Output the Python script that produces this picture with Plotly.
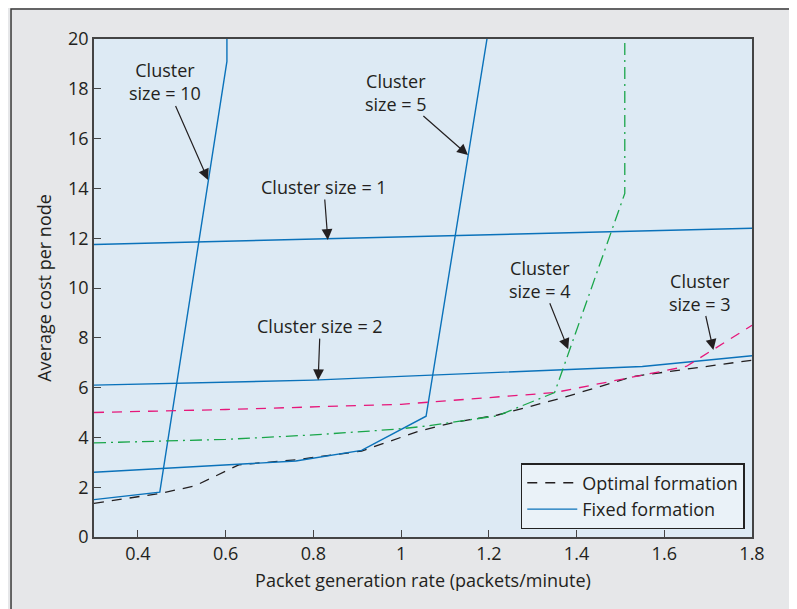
import plotly.graph_objects as go

# ---- data ----
opt_x = [0.30, 0.45, 0.53, 0.63, 0.76, 0.91, 1.04, 1.12, 1.22, 1.36, 1.53, 1.80]
opt_y = [1.35, 1.75, 2.05, 2.90, 3.10, 3.45, 4.25, 4.60, 4.90, 5.55, 6.45, 7.10]

c10_x = [0.30, 0.45, 0.603, 0.603]
c10_y = [1.50, 1.80, 19.1, 21.0]

c5_x = [0.30, 0.76, 0.91, 1.057, 1.205]
c5_y = [2.60, 3.05, 3.48, 4.85, 21.0]

c1_x = [0.30, 0.80, 1.80]
c1_y = [11.75, 11.97, 12.40]

c2_x = [0.30, 0.80, 1.00, 1.55, 1.80]
c2_y = [6.10, 6.30, 6.45, 6.85, 7.28]

c3_x = [0.30, 0.60, 1.00, 1.35, 1.65, 1.80]
c3_y = [5.00, 5.12, 5.33, 5.80, 6.85, 8.50]

c4_x = [0.30, 0.60, 0.80, 0.99, 1.06, 1.22, 1.35, 1.51, 1.51]
c4_y = [3.78, 3.92, 4.10, 4.33, 4.46, 4.87, 5.80, 13.8, 21.0]

x_ticks = [0.4, 0.6, 0.8, 1.0, 1.2, 1.4, 1.6, 1.8]
x_tick_labels = ["0.4", "0.6", "0.8", "1", "1.2", "1.4", "1.6", "1.8"]
y_ticks = [0, 2, 4, 6, 8, 10, 12, 14, 16, 18, 20]

BLUE = "#0a72ba"
PINK = "#e6177a"
GREEN = "#1aa64a"
BLACK = "#231f20"
FONT = "Open Sans"
FS = 18

fig = go.Figure()
fig.add_trace(go.Scatter(x=opt_x, y=opt_y, mode="lines", name="Optimal formation",
                         line=dict(color=BLACK, width=1.3, dash="10px,8px")))
fig.add_trace(go.Scatter(x=c1_x, y=c1_y, mode="lines", name="Fixed formation",
                         line=dict(color=BLUE, width=1.4)))
for xs, ys in [(c10_x, c10_y), (c5_x, c5_y), (c2_x, c2_y)]:
    fig.add_trace(go.Scatter(x=xs, y=ys, mode="lines", showlegend=False,
                             line=dict(color=BLUE, width=1.4)))
fig.add_trace(go.Scatter(x=c3_x, y=c3_y, mode="lines", showlegend=False,
                         line=dict(color=PINK, width=1.3, dash="10px,8px")))
fig.add_trace(go.Scatter(x=c4_x, y=c4_y, mode="lines", showlegend=False,
                         line=dict(color=GREEN, width=1.3, dash="12px,5px,2px,5px")))

# (label, tip x, tip y, ax, ay)
ann = [
    ("Cluster<br>size = 10", 0.560, 14.34, -43, -98),
    ("Cluster<br>size = 5", 1.1525, 15.34, -72, -63),
    ("Cluster size = 1", 0.833, 11.93, -4, -53),
    ("Cluster size = 2", 0.811, 6.30, 2, -54),
    ("Cluster<br>size = 4", 1.381, 7.54, -28, -70),
    ("Cluster<br>size = 3", 1.712, 7.51, -13, -58),
]
for text, x, y, ax, ay in ann:
    fig.add_annotation(x=x, y=y, ax=ax, ay=ay, text=text, showarrow=True,
                       arrowhead=2, arrowsize=1.8, arrowwidth=1.2, arrowcolor=BLACK,
                       borderpad=0,
                       font=dict(family=FONT, size=FS, color=BLACK))

# outer frame
fig.add_shape(type="rect", xref="paper", yref="paper",
              x0=-0.1261, x1=1.0638, y0=-0.2, y1=1.060,
              line=dict(color="#3a3a3a", width=1.5), layer="below")

fig.update_layout(
    width=789, height=601,
    margin=dict(l=86, r=45, t=31, b=72),
    paper_bgcolor="#e6e7e9",
    plot_bgcolor="#ddeaf4",
    font=dict(family=FONT, size=FS, color=BLACK),
    showlegend=True,
    legend=dict(x=0.989, y=0.016, xanchor="right", yanchor="bottom",
                bgcolor="#eaf2f8", bordercolor="#222", borderwidth=1.5,
                font=dict(family=FONT, size=FS, color=BLACK),
                tracegroupgap=0, itemwidth=50),
    xaxis=dict(range=[0.3, 1.8], tickvals=x_ticks, ticktext=x_tick_labels,
               ticks="inside", ticklen=7, tickcolor="#444",
               showgrid=False, zeroline=False, showline=True, linecolor="#444",
               linewidth=1.5, mirror=True,
               title=dict(text="Packet generation rate (packets/minute)",
                          font=dict(family=FONT, size=FS, color=BLACK), standoff=10)),
    yaxis=dict(range=[0, 20], tickvals=y_ticks,
               ticks="inside", ticklen=7, tickcolor="#444",
               showgrid=False, zeroline=False, showline=True, linecolor="#444",
               linewidth=1.5, mirror=True,
               title=dict(text="Average cost per node",
                          font=dict(family=FONT, size=FS, color=BLACK), standoff=12)),
)

fig.write_html("out.html")
